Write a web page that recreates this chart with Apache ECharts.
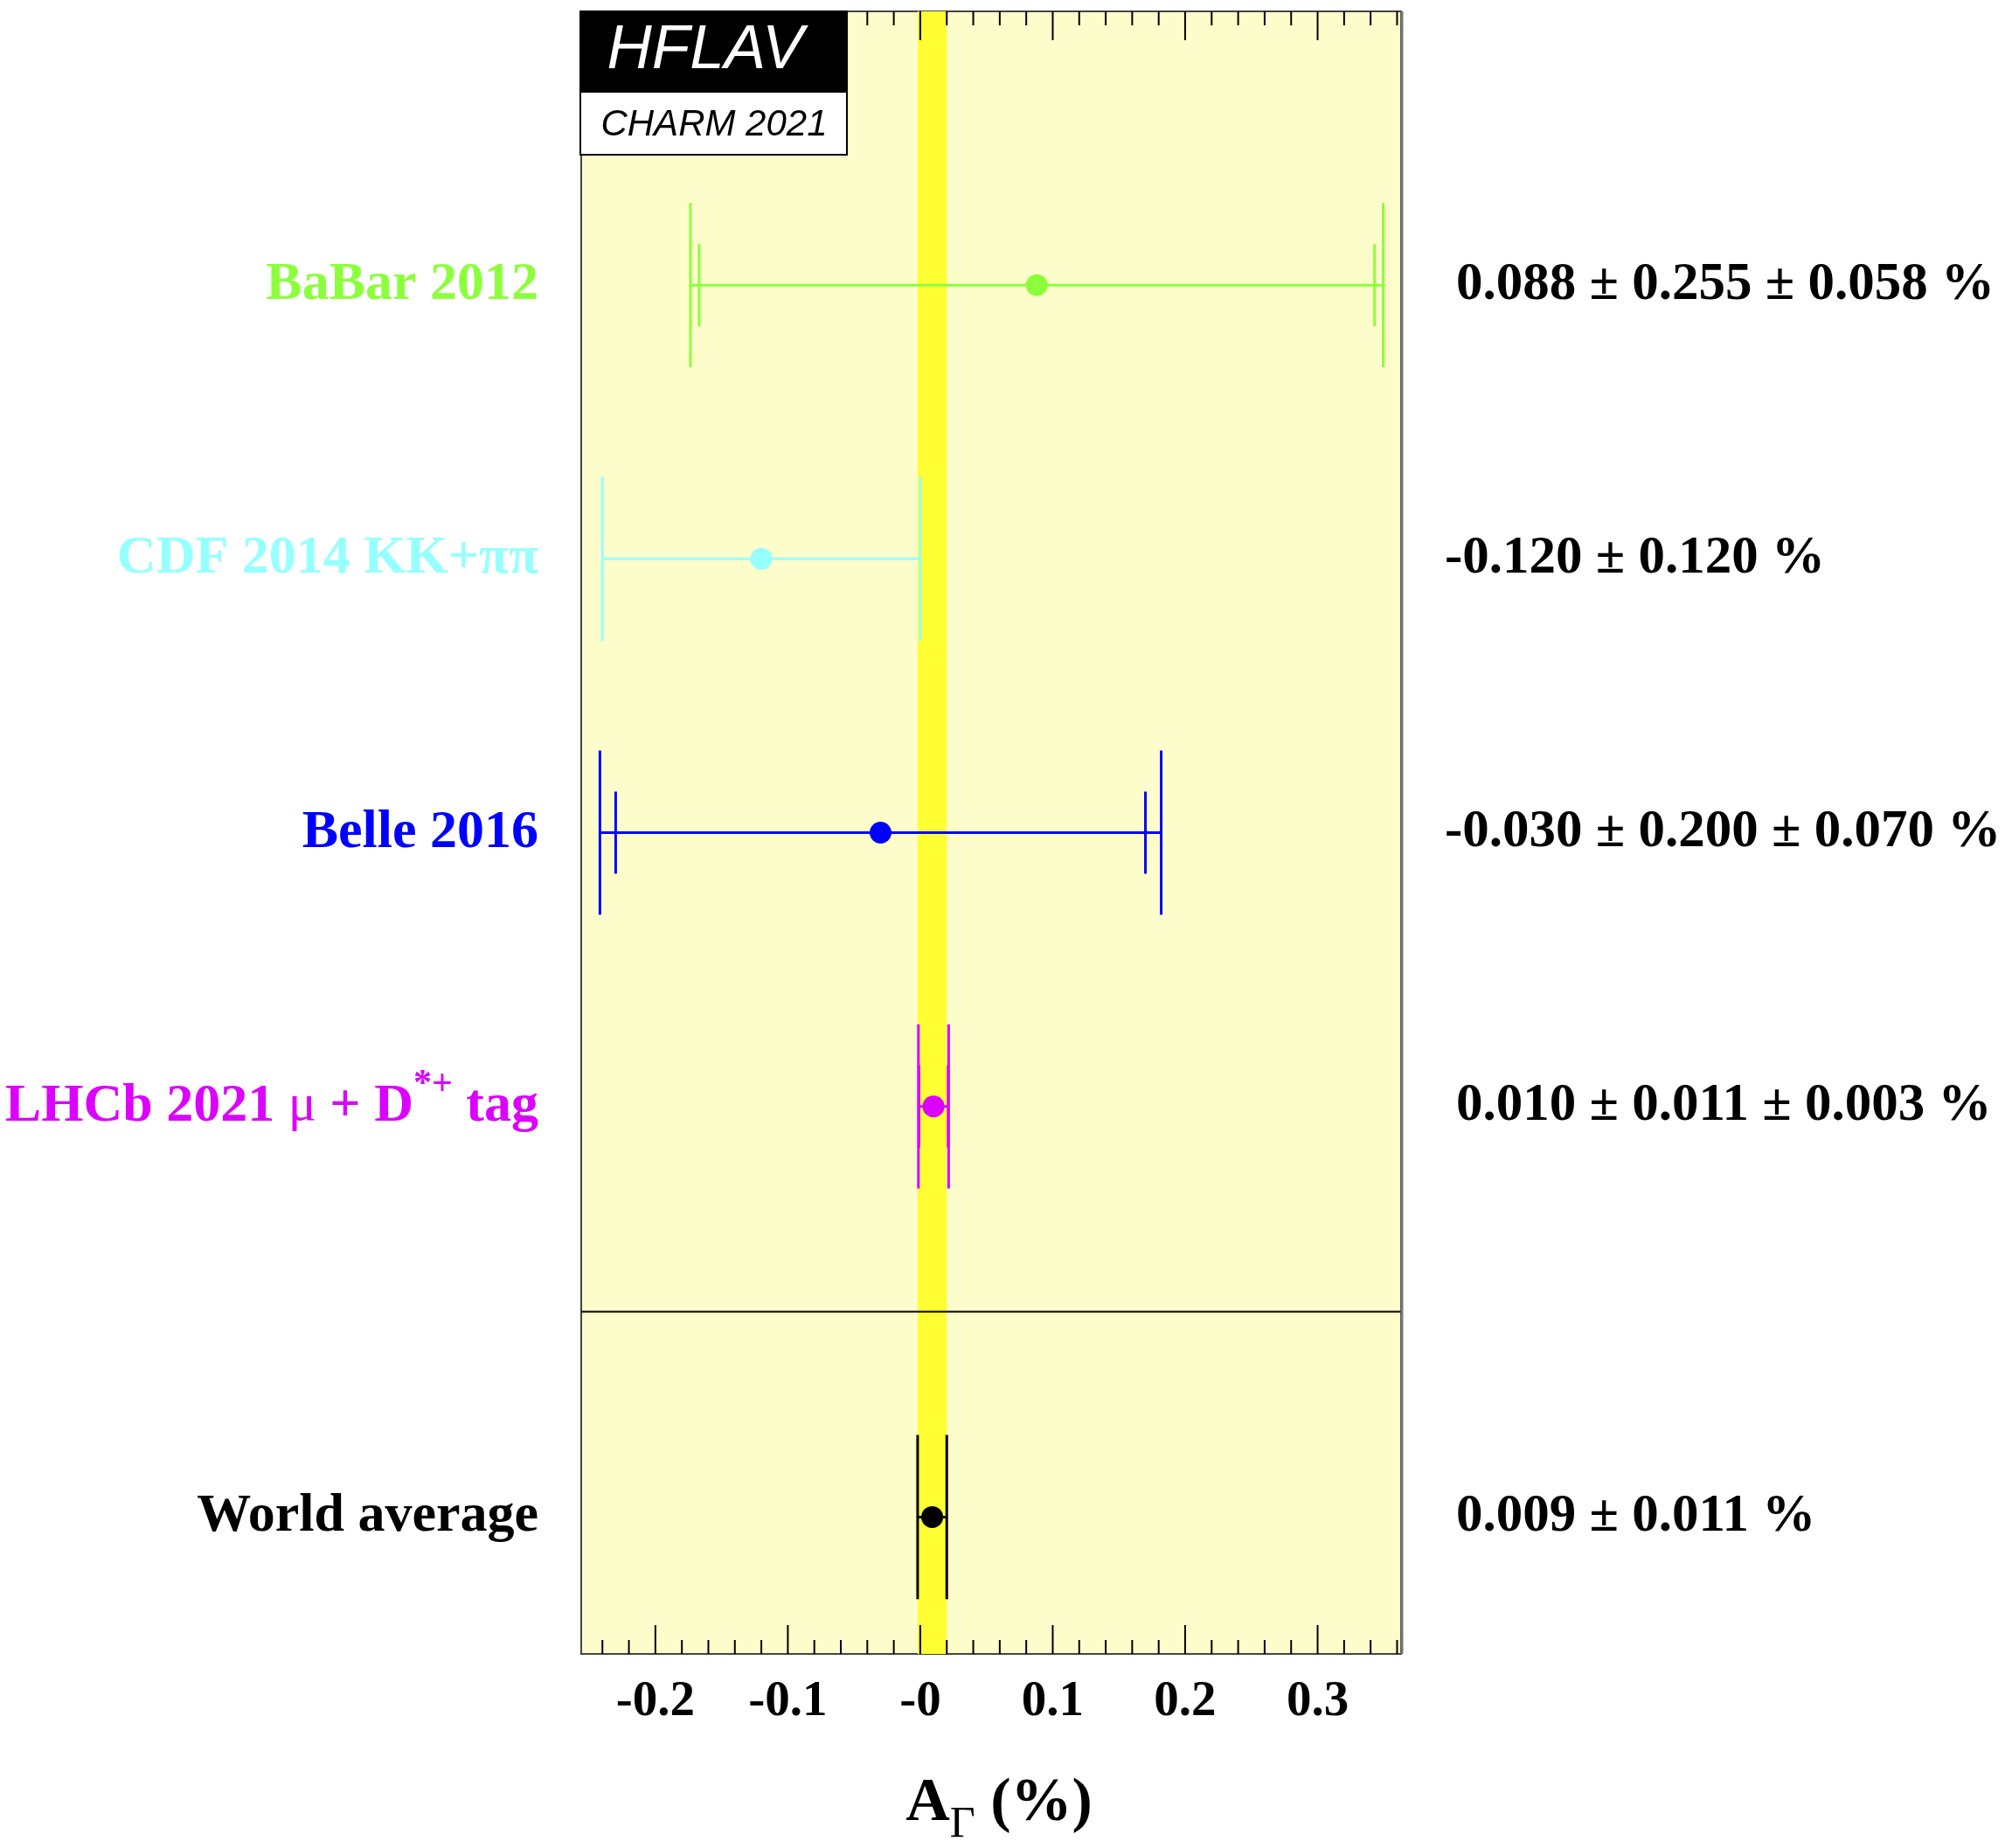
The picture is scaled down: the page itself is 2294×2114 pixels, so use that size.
<!DOCTYPE html>
<html><head><meta charset="utf-8">
<script src="https://cdn.jsdelivr.net/npm/echarts@6/dist/echarts.min.js"></script>
<style>html,body{margin:0;padding:0;background:#fff}#c{width:2294px;height:2114px}</style>
</head><body><div id="c"></div>
<script>
// ---- data ----
const labels = ['BaBar 2012', 'CDF 2014 KK+ππ', 'Belle 2016', 'LHCb 2021 μ + D*+ tag', 'World average'];
const rowPos = [1, 2, 3, 4, 5.5];
const values = [0.088, -0.120, -0.030, 0.010, 0.009];
const statErr = [0.255, 0.120, 0.200, 0.011, 0.011];
const systErr = [0.058, 0, 0.070, 0.003, 0];
const colors = ['#8cff3c', '#96ffff', '#0000ff', '#dc00ff', '#000000'];
const majorTicks = [-0.2, -0.1, 0, 0.1, 0.2, 0.3];
const tickLabels = ['-0.2', '-0.1', '-0', '0.1', '0.2', '0.3'];
const minorTicks = [-0.24, -0.22, -0.18, -0.16, -0.14, -0.12, -0.08, -0.06, -0.04, -0.02,
  0.02, 0.04, 0.06, 0.08, 0.12, 0.14, 0.16, 0.18, 0.22, 0.24, 0.26, 0.28, 0.32, 0.34, 0.36];
const avgBand = [-0.002, 0.020];
const separatorPos = 4.75;
const xRange = [-0.256, 0.363];
const yRange = [0, 6];

const SERIF = 'Liberation Serif, Times New Roman, serif';
const SANS = 'Liberation Sans, Arial, sans-serif';

function fmt(v) { return v.toFixed(3); }
const rightTexts = values.map((v, i) => {
  let s = fmt(v) + ' ± ' + fmt(statErr[i]);
  if (systErr[i] > 0) s += ' ± ' + fmt(systErr[i]);
  return s + ' %';
});

const chart = echarts.init(document.getElementById('c'), null, {renderer: 'canvas'});

const errData = values.map((v, i) => [v, rowPos[i], statErr[i], systErr[i], i]);
const tickData = majorTicks.map(t => [t, 1]).concat(minorTicks.map(t => [t, 0]));

function labelText(i) {
  if (i === 3) return '{b|LHCb 2021 }{m|μ}{b| + D}{s|*+}{b| tag}';
  return '{b|' + labels[i] + '}';
}
function labelRich(c) {
  return {
    b: {fontFamily: SERIF, fontWeight: 'bold', fontSize: 62, fill: c, lineHeight: 90},
    m: {fontFamily: SERIF, fontWeight: 'normal', fontSize: 60, fill: c, lineHeight: 90},
    s: {fontFamily: SERIF, fontWeight: 'bold', fontSize: 42, fill: c, padding: [0, 0, 50, 0]}
  };
}

chart.setOption({
  animation: false,
  backgroundColor: '#ffffff',
  grid: {left: 665, right: 691, top: 13, bottom: 222, show: true,
         backgroundColor: '#fdfccb', borderColor: '#444', borderWidth: 2},
  xAxis: {type: 'value', min: xRange[0], max: xRange[1],
          axisLine: {show: false}, axisTick: {show: false}, axisLabel: {show: false}, splitLine: {show: false}},
  yAxis: {type: 'value', min: yRange[0], max: yRange[1], inverse: true, show: false},
  graphic: [
    {type: 'rect', shape: {x: 664, y: 13, width: 305, height: 92}, style: {fill: '#000', stroke: '#000', lineWidth: 2}, z: 100},
    {type: 'rect', shape: {x: 664, y: 105, width: 305, height: 72}, style: {fill: '#fff', stroke: '#000', lineWidth: 2}, z: 100},
    {type: 'text', x: 807, y: 58, style: {text: 'HFLAV', fill: '#fff', fontFamily: SANS, fontStyle: 'italic', fontSize: 71, align: 'center', verticalAlign: 'middle'}, z: 101},
    {type: 'text', x: 817, y: 143, style: {text: 'CHARM 2021', fill: '#000', fontFamily: SANS, fontStyle: 'italic', fontSize: 42, align: 'center', verticalAlign: 'middle'}, z: 101},
    {type: 'line', shape: {x1: 1604, y1: 13, x2: 1604, y2: 1892}, style: {stroke: '#777', lineWidth: 3}, z: 99},
    {type: 'text', x: 1143, y: 2064, style: {
      text: '{a|A}{s|Γ}{a| (%)}', align: 'center', verticalAlign: 'middle',
      rich: {
        a: {fontFamily: SERIF, fontWeight: 'bold', fontSize: 70, fill: '#000', lineHeight: 100},
        s: {fontFamily: SERIF, fontWeight: 'normal', fontSize: 50, fill: '#000', padding: [48, 0, 0, 0]}
      }}, z: 101}
  ],
  series: [
    { // world average band
      type: 'custom', clip: true, z: 1, data: [[avgBand[0], avgBand[1]]],
      encode: {x: [0, 1]},
      renderItem(params, api) {
        const p0 = api.coord([api.value(0), yRange[0]]);
        const p1 = api.coord([api.value(1), yRange[1]]);
        return {type: 'rect', shape: {x: p0[0], y: Math.min(p0[1], p1[1]), width: p1[0] - p0[0], height: Math.abs(p1[1] - p0[1])},
                style: {fill: '#ffff33'}};
      }
    },
    { // separator
      type: 'custom', clip: false, z: 2, data: [[separatorPos]],
      encode: {y: 0},
      renderItem(params, api) {
        const cs = params.coordSys;
        const p = api.coord([xRange[0], api.value(0)]);
        return {type: 'line', shape: {x1: cs.x, y1: p[1], x2: cs.x + cs.width, y2: p[1]},
                style: {stroke: '#000', lineWidth: 2}};
      }
    },
    { // axis ticks (top and bottom) and labels
      type: 'custom', clip: false, z: 3, data: tickData,
      encode: {x: 0},
      renderItem(params, api) {
        const cs = params.coordSys;
        const v = api.value(0), major = api.value(1) === 1;
        const x = api.coord([v, 0])[0];
        const len = major ? 33 : 16;
        const bot = cs.y + cs.height, top = cs.y;
        const ch = [
          {type: 'line', shape: {x1: x, y1: bot, x2: x, y2: bot - len}, style: {stroke: '#000', lineWidth: 2}},
          {type: 'line', shape: {x1: x, y1: top, x2: x, y2: top + len}, style: {stroke: '#000', lineWidth: 2}}
        ];
        if (major) {
          const idx = majorTicks.indexOf(v);
          ch.push({type: 'text', x: x, y: bot + 55, style: {text: tickLabels[idx], fill: '#000', fontFamily: SERIF,
                   fontWeight: 'bold', fontSize: 57, align: 'center', verticalAlign: 'middle'}});
        }
        return {type: 'group', children: ch};
      }
    },
    { // error bars and markers
      type: 'custom', clip: false, z: 5, data: errData,
      encode: {x: 0, y: 1},
      renderItem(params, api) {
        const v = api.value(0), y = api.value(1), st = api.value(2), sy = api.value(3), i = api.value(4);
        const c = colors[i];
        const tot = Math.sqrt(st * st + sy * sy);
        const pc = api.coord([v, y]);
        const pl = api.coord([v - tot, y]), pr = api.coord([v + tot, y]);
        const hO = Math.abs(api.size([0, 0.3])[1]);
        const hI = Math.abs(api.size([0, 0.15])[1]);
        const lw = 3;
        const ch = [
          {type: 'line', shape: {x1: pl[0], y1: pc[1], x2: pr[0], y2: pc[1]}, style: {stroke: c, lineWidth: lw}},
          {type: 'line', shape: {x1: pl[0], y1: pc[1] - hO, x2: pl[0], y2: pc[1] + hO}, style: {stroke: c, lineWidth: lw}},
          {type: 'line', shape: {x1: pr[0], y1: pc[1] - hO, x2: pr[0], y2: pc[1] + hO}, style: {stroke: c, lineWidth: lw}}
        ];
        if (sy > 0) {
          const sl = api.coord([v - st, y]), sr = api.coord([v + st, y]);
          ch.push({type: 'line', shape: {x1: sl[0], y1: pc[1] - hI, x2: sl[0], y2: pc[1] + hI}, style: {stroke: c, lineWidth: lw}});
          ch.push({type: 'line', shape: {x1: sr[0], y1: pc[1] - hI, x2: sr[0], y2: pc[1] + hI}, style: {stroke: c, lineWidth: lw}});
        }
        ch.push({type: 'circle', shape: {cx: pc[0], cy: pc[1], r: 12.5}, style: {fill: c}});
        return {type: 'group', children: ch};
      }
    },
    { // left labels and right value texts
      type: 'custom', clip: false, z: 6, data: errData,
      encode: {x: 0, y: 1},
      renderItem(params, api) {
        const cs = params.coordSys;
        const y = api.value(1), i = api.value(4), v = api.value(0);
        const py = api.coord([0, y])[1];
        const c = colors[i];
        const xr = cs.x + cs.width + (v < 0 ? 50 : 63);
        return {type: 'group', children: [
          {type: 'text', x: cs.x - 49, y: py, style: {text: labelText(i), rich: labelRich(c), align: 'right', verticalAlign: 'middle'}},
          {type: 'text', x: xr, y: py, style: {text: rightTexts[i], fill: '#000', fontFamily: SERIF, fontWeight: 'bold',
            fontSize: 61, align: 'left', verticalAlign: 'middle'}}
        ]};
      }
    }
  ]
});
</script></body></html>
